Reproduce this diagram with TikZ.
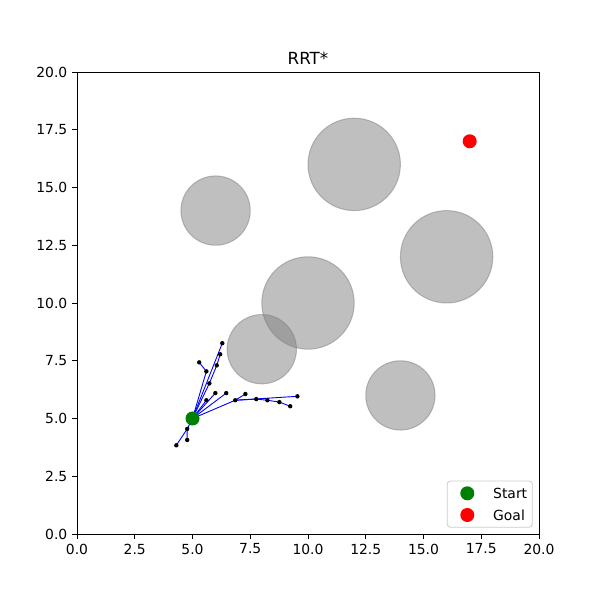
\documentclass[tikz,border=0pt]{standalone}
\usepackage{fontspec}
\setmainfont{DejaVu Sans}
\definecolor{mgray}{RGB}{128,128,128}
\definecolor{mgreen}{RGB}{0,128,0}
\definecolor{mred}{RGB}{255,0,0}
\definecolor{mblue}{RGB}{0,0,255}
\definecolor{lgray}{RGB}{204,204,204}
\begin{document}
\begin{tikzpicture}[x=1pt,y=1pt,
  obst/.style={fill=mgray,fill opacity=0.5,draw=mgray,draw opacity=0.5,line width=1pt},
  edge/.style={draw=mblue,line width=0.9pt},
  treedot/.style={fill=black},
  ticklab/.style={font=\fontsize{13.9}{16}\selectfont,inner sep=0pt},
  tickmark/.style={line width=0.8pt}]
\useasboundingbox (0,0) rectangle (600,600);
\fill[white] (0,0) rectangle (600,600);
\begin{scope}[shift={(77pt,66pt)},x=23.1pt,y=23.1pt]
  % obstacles
  \draw[obst] (6,14) circle (1.5);
  \draw[obst] (12,16) circle (2);
  \draw[obst] (16,12) circle (2);
  \draw[obst] (10,10) circle (2);
  \draw[obst] (8,8) circle (1.5);
  \draw[obst] (14,6) circle (1.5);
  % tree nodes
  \coordinate (s) at (5,5);
  \coordinate (a) at (5.73,6.52);
  \coordinate (b) at (6.05,7.30);
  \coordinate (c) at (6.20,7.78);
  \coordinate (d) at (6.29,8.26);
  \coordinate (e) at (5.60,7.04);
  \coordinate (f) at (5.29,7.43);
  \coordinate (g) at (5.99,6.10);
  \coordinate (h) at (5.60,5.79);
  \coordinate (i) at (6.46,6.10);
  \coordinate (j) at (6.85,5.79);
  \coordinate (k) at (7.29,6.06);
  \coordinate (l) at (7.76,5.84);
  \coordinate (m) at (8.24,5.79);
  \coordinate (n) at (8.76,5.71);
  \coordinate (o) at (9.23,5.53);
  \coordinate (p) at (9.54,5.96);
  \coordinate (q) at (4.77,4.55);
  \coordinate (r) at (4.77,4.07);
  \coordinate (t) at (4.30,3.84);
  % edges
  \draw[edge] (s) -- (a) -- (b) -- (c);
  \draw[edge] (s) -- (d);
  \draw[edge] (s) -- (e) -- (f);
  \draw[edge] (s) -- (g);
  \draw[edge] (s) -- (h);
  \draw[edge] (s) -- (i);
  \draw[edge] (s) -- (j) -- (k);
  \draw[edge] (j) -- (p);
  \draw[edge] (j) -- (l) -- (m) -- (n) -- (o);
  \draw[edge] (s) -- (q) -- (r);
  \draw[edge] (q) -- (t);
  % tree dots
  \foreach \nn in {a,b,c,d,e,f,g,h,i,j,k,l,m,n,o,p,q,r,t}
    \fill[treedot] (\nn) circle (2.2pt);
  % start and goal
  \node[circle,fill=mgreen,minimum size=14pt,inner sep=0pt] (start) at (s) {};
  \node[circle,fill=mred,minimum size=14pt,inner sep=0pt] (goal) at (17,17) {};
  % frame
  \draw[line width=0.8pt] (0,0) rectangle (20,20);
  % ticks
  \foreach \v/\lab in {0/0.0,2.5/2.5,5/5.0,7.5/7.5,10/10.0,12.5/12.5,15/15.0,17.5/17.5,20/20.0} {
    \draw[tickmark] (\v,0) -- ++(0,-4.9pt);
    \node[ticklab,anchor=north] at ([yshift=-9.5pt]\v,0) {\lab};
    \draw[tickmark] (0,\v) -- ++(-4.9pt,0);
    \node[ticklab,anchor=east] at ([xshift=-9.5pt]0,\v) {\lab};
  }
\end{scope}
% title
\node[font=\fontsize{16.7}{19}\selectfont,inner sep=0pt] (title) at (308,542) {RRT*};
% legend
\draw[lgray,fill=white,fill opacity=0.8,rounded corners=3pt,line width=0.8pt] (447.3,72.7) rectangle (532.3,119);
\node[circle,fill=mgreen,minimum size=14pt,inner sep=0pt] (lstart) at (467.3,106.7) {};
\node[circle,fill=mred,minimum size=14pt,inner sep=0pt] (lgoal) at (467.3,85) {};
\node[ticklab,anchor=west] (tstart) at (493,106.7) {Start};
\node[ticklab,anchor=west] (tgoal) at (493,85) {Goal};
\end{tikzpicture}
\end{document}
